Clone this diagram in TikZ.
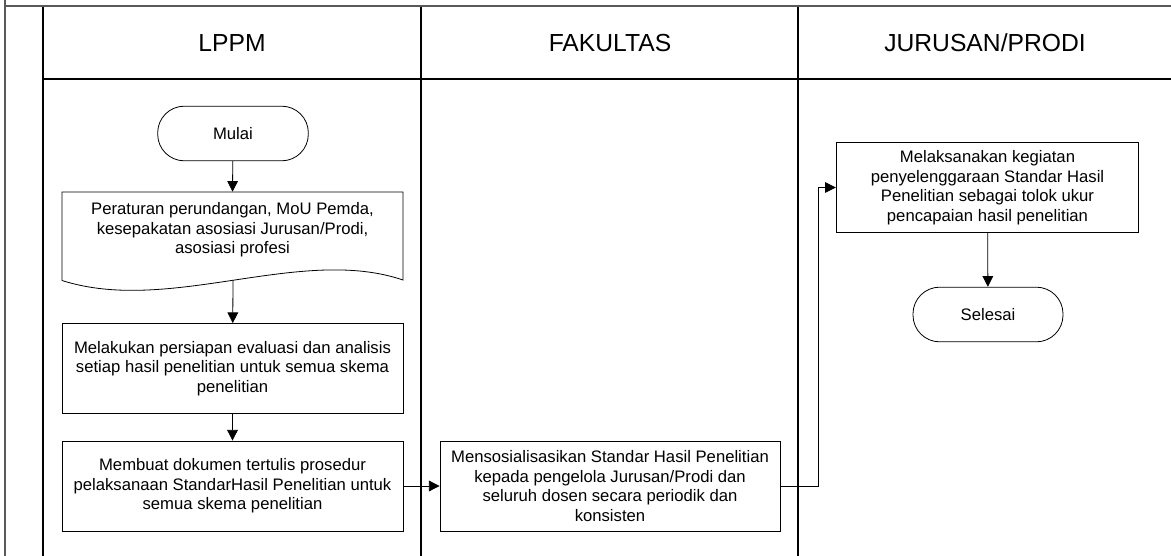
\documentclass[tikz,border=0pt]{standalone}
\usepackage{fontspec}
\setmainfont{Liberation Sans}
\usetikzlibrary{arrows.meta}

\begin{document}
\begin{tikzpicture}[x=0.75pt, y=-0.75pt,
    teks/.style={font=\fontsize{12.5}{14.7}\selectfont, align=center},
    proses/.style={teks, draw, line width=0.6pt, minimum width=255.75pt, minimum height=67.5pt, inner sep=2pt},
    terminal/.style={teks, draw, line width=0.6pt, rounded corners=20pt, minimum width=113pt, minimum height=41pt},
    panah/.style={-{Triangle[length=8pt,width=8pt]}, line width=0.6pt},
    judul/.style={font=\fontsize{18.5}{22}\selectfont},
    carril/.style={line width=1pt}]
        \useasboundingbox (0,0) rectangle (1171,556);

        % Carriles
        \draw[gray!70!black, line width=1.5pt] (5,0) -- (5,556);
        \draw[gray!70!black, line width=1.5pt] (5,6) -- (1171,6);
        \draw[carril] (43,7) -- (43,556);
        \draw[carril] (421,7) -- (421,556);
        \draw[carril] (798,7) -- (798,556);
        \draw[carril] (43,79) -- (1171,79);

        \node[judul] (lppm) at (232,43) {LPPM};
        \node[judul] (fak) at (610,43) {FAKULTAS};
        \node[judul] (jur) at (985,43) {JURUSAN/PRODI};

        % Nodos
        \node[terminal] (mulai) at (233,133.5) {Mulai};
        \node[teks, minimum width=255.75pt, minimum height=57pt] (dok) at (232.5,230)
            {Peraturan perundangan, MoU Pemda,\\kesepakatan asosiasi Jurusan/Prodi,\\asosiasi profesi};
        \draw[line width=0.6pt] (62,280.5) -- (62,192) -- (403,192) -- (403,280)
            .. controls (300,245) and (170,315) .. (62,280.5);
        \coordinate (dokbawah) at (233,280);
        \node[proses] (siap) at (232.5,368.5)
            {Melakukan persiapan evaluasi dan analisis\\setiap hasil penelitian untuk semua skema\\penelitian};
        \node[proses] (buat) at (232.5,486)
            {Membuat dokumen tertulis prosedur\\pelaksanaan StandarHasil Penelitian untuk\\semua skema penelitian};
        \node[proses, minimum width=255pt] (sosial) at (610,486)
            {Mensosialisasikan Standar Hasil Penelitian\\kepada pengelola Jurusan/Prodi dan\\seluruh dosen secara periodik dan\\konsisten};
        \node[proses, minimum width=227pt, minimum height=67pt] (laksana) at (987.5,187.5)
            {Melaksanakan kegiatan\\penyelenggaraan Standar Hasil\\Penelitian sebagai tolok ukur\\pencapaian hasil penelitian};
        \node[terminal, minimum width=112.5pt] (selesai) at (988,314.5) {Selesai};

        % Flechas
        \coordinate (belok) at (818,486);
        \draw[panah] (mulai) -- (dok.north);
        \draw[panah] (dokbawah) -- (siap);
        \draw[panah] (siap) -- (buat);
        \draw[panah] (buat) -- (sosial);
        \draw[panah] (sosial.east) -- (belok) |- (laksana.west);
        \draw[panah] (laksana) -- (selesai);
    \end{tikzpicture}
\end{document}
